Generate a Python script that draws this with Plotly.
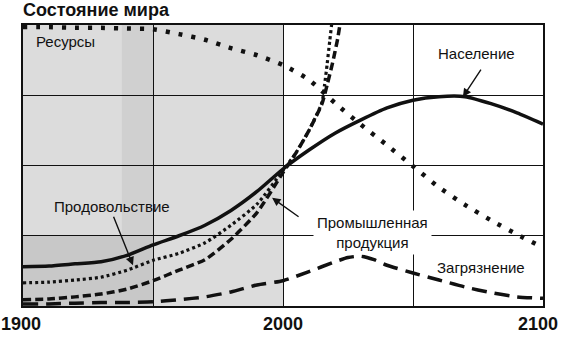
import plotly.graph_objects as go

# ---------------- data ----------------
years10 = [1900, 1910, 1920, 1930, 1940, 1950, 1960, 1970, 1980, 1990, 2000,
           2010, 2020, 2030, 2040, 2050, 2060, 2070, 2080, 2090, 2100]

population = [0.56, 0.57, 0.60, 0.63, 0.72, 0.87, 1.00, 1.15, 1.36, 1.63, 1.95,
              2.22, 2.46, 2.65, 2.82, 2.93, 2.98, 2.98, 2.88, 2.75, 2.59]

resources = [3.97, 3.97, 3.96, 3.96, 3.95, 3.94, 3.87, 3.79, 3.67, 3.57, 3.43,
             3.22, 2.89, 2.58, 2.29, 1.99, 1.69, 1.44, 1.22, 1.02, 0.83]

food_years = [1900, 1910, 1920, 1930, 1940, 1950, 1960, 1970, 1980, 1990, 2000,
              2005, 2010, 2015, 2016, 2017, 2018, 2019, 2020]
food = [0.33, 0.34, 0.37, 0.41, 0.51, 0.65, 0.75, 0.90, 1.15, 1.45, 1.93,
        2.18, 2.50, 2.90, 3.15, 3.45, 3.78, 4.10, 4.40]

industry_years = [1900, 1910, 1920, 1930, 1940, 1950, 1960, 1970, 1980, 1990, 2000,
                  2005, 2010, 2015, 2017, 2019, 2020, 2021, 2022, 2023]
industry = [0.09, 0.10, 0.13, 0.17, 0.24, 0.36, 0.51, 0.66, 0.95, 1.33, 1.90,
            2.18, 2.50, 2.88, 3.15, 3.45, 3.62, 3.80, 4.03, 4.30]

pollution_years = [1900, 1910, 1920, 1930, 1940, 1950, 1960, 1970, 1980, 1990, 2000,
                   2010, 2020, 2025, 2030, 2035, 2040, 2050, 2060, 2070, 2080, 2090, 2100]
pollution = [0.03, 0.03, 0.04, 0.05, 0.05, 0.06, 0.09, 0.13, 0.20, 0.30, 0.36,
             0.49, 0.63, 0.69, 0.71, 0.66, 0.58, 0.47, 0.37, 0.27, 0.19, 0.13, 0.11]

tick_years = [1900, 2000, 2100]
tick_labels = ["1900", "2000", "2100"]

title_text = "Состояние мира"
labels = {
    "res": "Ресурсы",
    "pop": "Население",
    "food": "Продовольствие",
    "ind": "Промышленная<br>продукция",
    "pol": "Загрязнение",
}

# ---------------- figure ----------------
FONT = "Liberation Sans, Arial, sans-serif"
INK = "#111111"

fig = go.Figure()

# stippled grey background of the historical part
fig.add_shape(type="rect", xref="x", yref="y", x0=1900, x1=2000, y0=0, y1=4,
              fillcolor="#dcdcdc", line_width=0, layer="below")
fig.add_shape(type="rect", xref="x", yref="y", x0=1938, x1=1950, y0=0, y1=4,
              fillcolor="#d0d0d0", line_width=0, layer="below")
fig.add_shape(type="rect", xref="x", yref="y", x0=1900, x1=1950, y0=0, y1=1,
              fillcolor="#c8c8c8", line_width=0, layer="below")

line_common = dict(shape="spline", smoothing=0.6)

fig.add_trace(go.Scatter(x=years10, y=resources, mode="lines",
                         line=dict(color=INK, width=4.5, dash="4px,9px", **line_common),
                         hoverinfo="skip"))
fig.add_trace(go.Scatter(x=pollution_years, y=pollution, mode="lines",
                         line=dict(color=INK, width=3.5, dash="15px,8px", **line_common),
                         hoverinfo="skip"))
fig.add_trace(go.Scatter(x=industry_years, y=industry, mode="lines",
                         line=dict(color=INK, width=3.5, dash="8px,4px", **line_common),
                         hoverinfo="skip"))
fig.add_trace(go.Scatter(x=food_years, y=food, mode="lines",
                         line=dict(color=INK, width=3.2, dash="3px,3px", **line_common),
                         hoverinfo="skip"))
fig.add_trace(go.Scatter(x=years10, y=population, mode="lines",
                         line=dict(color=INK, width=3.5, **line_common),
                         hoverinfo="skip"))

ann = []
lab_font = dict(family=FONT, size=15, color=INK)
ann.append(dict(x=1916.5, y=3.76, text=labels["res"], showarrow=False, font=lab_font))
ann.append(dict(x=2074.6, y=3.60, text=labels["pop"], showarrow=False, font=lab_font))
ann.append(dict(x=1934.2, y=1.41, text=labels["food"], showarrow=False, font=lab_font))
ann.append(dict(x=2034.6, y=1.04, text=labels["ind"], showarrow=False, font=lab_font,
                bgcolor="white", borderpad=3))
ann.append(dict(x=2076.2, y=0.555, text=labels["pol"], showarrow=False, font=lab_font))

# arrows
arrow_style = dict(text="", showarrow=True, arrowhead=2, arrowsize=1.2,
                   arrowwidth=1.4, arrowcolor=INK, axref="pixel", ayref="pixel")
ann.append(dict(x=2069.2, y=2.975, ax=19, ay=-29, **arrow_style))
ann.append(dict(x=1942.3, y=0.58, ax=-20, ay=-50, **arrow_style))
ann.append(dict(x=1995.8, y=1.54, ax=28, ay=20, **arrow_style))

# tick labels
for xv, tl, sh in zip(tick_years, tick_labels, [-2, 0, -5]):
    ann.append(dict(x=xv, xref="x", y=0, yref="paper", yanchor="middle",
                    yshift=-18, xshift=sh,
                    text="<b>%s</b>" % tl, showarrow=False,
                    font=dict(family=FONT, size=18, color=INK)))

fig.update_layout(
    width=570, height=337,
    margin=dict(l=23, r=27, t=25, b=31),
    paper_bgcolor="white", plot_bgcolor="white",
    showlegend=False,
    title=dict(text="<b>%s</b>" % title_text, x=23 / 570, xanchor="left",
               xref="container", y=1 - 10 / 337, yanchor="middle", yref="container",
               font=dict(family=FONT, size=18, color=INK)),
    annotations=ann,
)
fig.update_xaxes(range=[1900, 2100], dtick=50, tick0=1900, showgrid=True,
                 gridcolor=INK, gridwidth=1.3, showticklabels=False, ticks="",
                 showline=True, linecolor=INK, linewidth=2, mirror=True, zeroline=False)
fig.update_yaxes(range=[0, 4], dtick=1, tick0=0, showgrid=True,
                 gridcolor=INK, gridwidth=1.3, showticklabels=False, ticks="",
                 showline=True, linecolor=INK, linewidth=2, mirror=True, zeroline=False)

fig.write_html("out.html")
